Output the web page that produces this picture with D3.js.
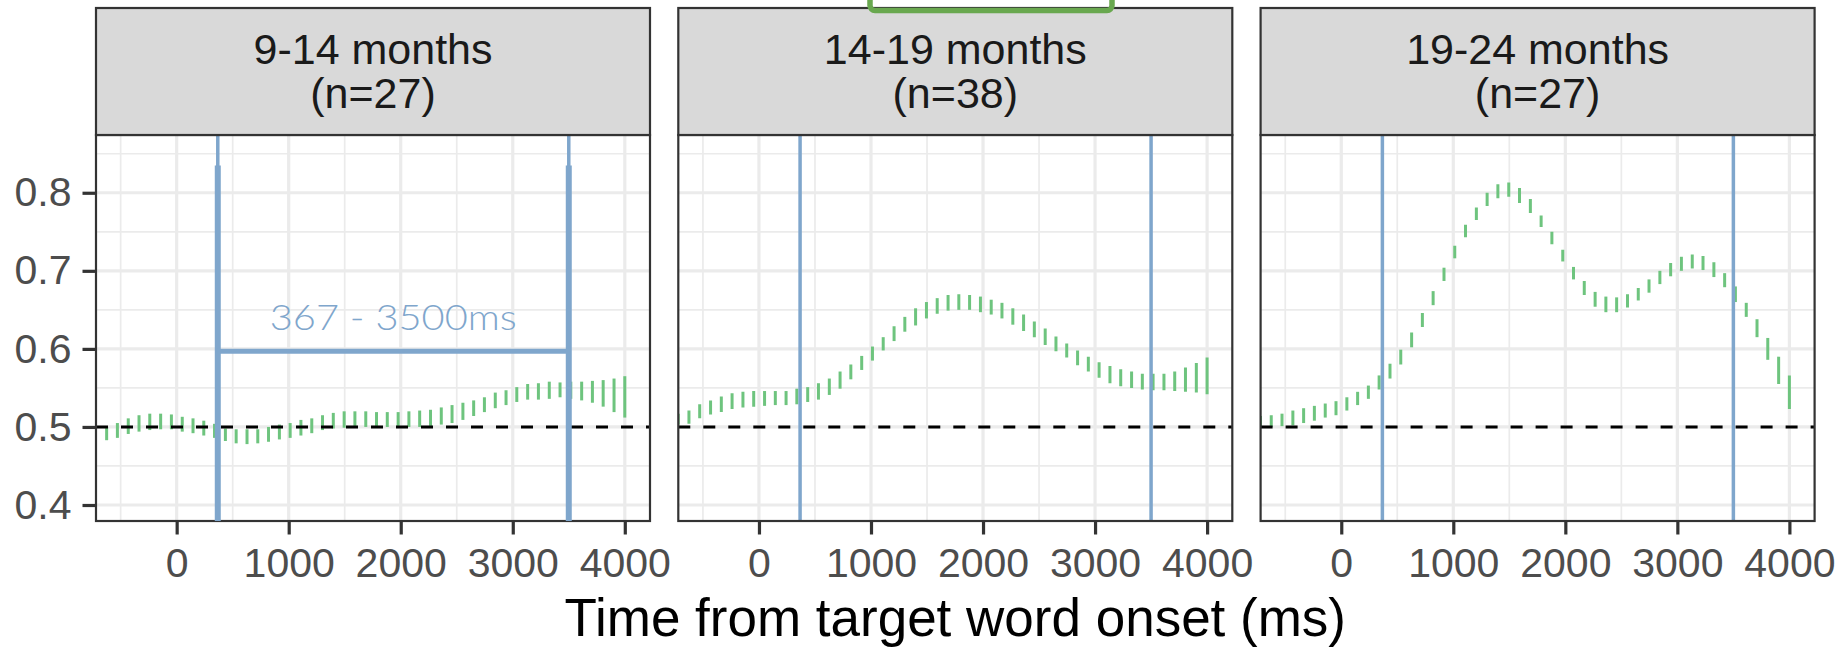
<!DOCTYPE html>
<html>
<head>
<meta charset="utf-8">
<script src="https://cdn.jsdelivr.net/npm/d3@7"></script>
<style>
  body { margin: 0; background: #fff; }
</style>
</head>
<body>
<script>
// facet labels
var panelNames = ['9-14 months', '14-19 months', '19-24 months'];
var panelN = ['(n=27)', '(n=38)', '(n=27)'];

// time bins (ms), bar centres
var times = [-721, -625, -529, -432, -336, -240, -143, -47, 50, 146,
  242, 338, 435, 531, 628, 724, 820, 917, 1013, 1109,
  1206, 1302, 1398, 1495, 1591, 1688, 1784, 1880, 1977, 2073,
  2169, 2266, 2362, 2458, 2555, 2651, 2747, 2844, 2940, 3036,
  3133, 3229, 3326, 3422, 3518, 3615, 3711, 3807, 3904, 4000];

// proportion target looking, lower / upper end of each bar
var lo914 = [null, .483, .486, .491, .494, .496, .497, .497, .494, .492,
  .489, .486, .482, .479, .478, .479, .481, .484, .486, .489,
  .492, .496, .498, .499, .499, .500, .500, .500, .499, .500,
  .500, .501, .503, .505, .509, .514, .519, .524, .528, .532,
  .535, .535, .536, .538, .536, .534, .531, .526, .519, .512];
var hi914 = [null, .500, .505, .511, .515, .517, .517, .516, .513, .511,
  .508, .504, .498, .497, .497, .497, .500, .503, .505, .509,
  .511, .515, .518, .520, .520, .520, .519, .519, .519, .520,
  .521, .522, .525, .528, .531, .534, .538, .544, .547, .551,
  .555, .556, .558, .557, .558, .558, .559, .560, .562, .565];

var lo1419 = [.503, .504, .511, .516, .519, .523, .525, .526, .527, .528,
  .528, .529, .532, .535, .541, .549, .561, .573, .585, .598,
  .610, .622, .630, .639, .645, .649, .650, .650, .647, .644,
  .639, .631, .623, .615, .605, .597, .589, .579, .571, .563,
  .556, .552, .550, .548, .547, .547, .546, .545, .544, .542];
var hi1419 = [.517, .521, .529, .534, .539, .543, .545, .546, .546, .546,
  .546, .549, .551, .556, .562, .571, .580, .591, .603, .615,
  .629, .641, .652, .660, .665, .669, .670, .669, .667, .663,
  .659, .652, .644, .635, .626, .616, .607, .598, .590, .583,
  .578, .574, .571, .568, .568, .568, .571, .576, .582, .589];

var lo1924 = [.500, .500, .501, .502, .505, .508, .512, .515, .521, .528,
  .536, .548, .562, .580, .602, .628, .656, .687, .716, .743,
  .765, .783, .793, .795, .787, .774, .756, .734, .712, .689,
  .669, .654, .647, .647, .653, .662, .672, .683, .693, .700,
  .703, .701, .692, .679, .660, .641, .615, .586, .555, .523];
var hi1924 = [.514, .515, .517, .521, .524, .527, .530, .533, .538, .545,
  .553, .566, .581, .599, .621, .646, .674, .704, .732, .759,
  .781, .800, .811, .813, .806, .792, .771, .750, .727, .705,
  .687, .673, .667, .666, .670, .678, .689, .700, .710, .718,
  .721, .719, .711, .697, .680, .659, .638, .614, .590, .566];

var xTicks = [0, 1000, 2000, 3000, 4000];
var xMinor = [-500, 500, 1500, 2500, 3500];
var yTicks = [0.4, 0.5, 0.6, 0.7, 0.8];
var yMinor = [0.45, 0.55, 0.65, 0.75, 0.85];

var windowMs = [367, 3500];   // analysis window (vertical lines)
var chance = 0.5;
var bracket = {top: 0.835, bar: 0.597, label: '367 - 3500ms'};

var series = [
  {lo: lo914, hi: hi914},
  {lo: lo1419, hi: hi1419},
  {lo: lo1924, hi: hi1924}
];

// layout
var width = 1841, height = 649;
var panelLeft = 96, panelTop = 135, panelW = 554, panelH = 386, panelGap = 28.3;
var stripH = 127;
var font = 'Liberation Sans, Arial, Helvetica, sans-serif';
var blue = '#7fa6cc', green = '#6ec47e';

var svg = d3.select('body').append('svg')
  .attr('width', width)
  .attr('height', height)
  .style('background', '#fff');

var xScale = d3.scaleLinear().domain([-720, 4225]).range([0, panelW]);
var yScale = d3.scaleLinear().domain([0.3795, 0.874]).range([panelH, 0]);

var defs = svg.append('defs');

panelNames.forEach(function(name, p) {
  var px = panelLeft + p * (panelW + panelGap);
  var g = svg.append('g').attr('transform', 'translate(' + px + ',' + panelTop + ')');

  defs.append('clipPath').attr('id', 'clip' + p)
    .append('rect').attr('width', panelW).attr('height', panelH);

  var plot = g.append('g').attr('clip-path', 'url(#clip' + p + ')');

  plot.append('rect').attr('width', panelW).attr('height', panelH).attr('fill', '#fff');

  // minor grid
  plot.selectAll('.vminor').data(xMinor).enter().append('line')
    .attr('x1', function(d){ return xScale(d); }).attr('x2', function(d){ return xScale(d); })
    .attr('y1', 0).attr('y2', panelH)
    .attr('stroke', '#ebebeb').attr('stroke-width', 1.7);
  plot.selectAll('.hminor').data(yMinor).enter().append('line')
    .attr('x1', 0).attr('x2', panelW)
    .attr('y1', function(d){ return yScale(d); }).attr('y2', function(d){ return yScale(d); })
    .attr('stroke', '#ebebeb').attr('stroke-width', 1.7);

  // major grid
  plot.selectAll('.vmajor').data(xTicks).enter().append('line')
    .attr('x1', function(d){ return xScale(d); }).attr('x2', function(d){ return xScale(d); })
    .attr('y1', 0).attr('y2', panelH)
    .attr('stroke', '#ebebeb').attr('stroke-width', 3.2);
  plot.selectAll('.hmajor').data(yTicks).enter().append('line')
    .attr('x1', 0).attr('x2', panelW)
    .attr('y1', function(d){ return yScale(d); }).attr('y2', function(d){ return yScale(d); })
    .attr('stroke', '#ebebeb').attr('stroke-width', 3.2);

  // error bars
  var s = series[p];
  var bars = times.map(function(t, i){ return {t: t, lo: s.lo[i], hi: s.hi[i]}; })
    .filter(function(d){ return d.lo !== null; });
  plot.selectAll('.bar').data(bars).enter().append('line')
    .attr('x1', function(d){ return xScale(d.t); })
    .attr('x2', function(d){ return xScale(d.t); })
    .attr('y1', function(d){ return yScale(d.lo); })
    .attr('y2', function(d){ return yScale(d.hi); })
    .attr('stroke', green).attr('stroke-width', 3);

  // chance line
  plot.append('line')
    .attr('x1', 0).attr('x2', panelW)
    .attr('y1', yScale(chance)).attr('y2', yScale(chance))
    .attr('stroke', '#000').attr('stroke-width', 3)
    .attr('stroke-dasharray', '12,13');

  // window lines
  plot.selectAll('.win').data(windowMs).enter().append('line')
    .attr('x1', function(d){ return xScale(d); }).attr('x2', function(d){ return xScale(d); })
    .attr('y1', 0).attr('y2', panelH)
    .attr('stroke', blue).attr('stroke-width', 3.5);

  // panel border
  g.append('rect').attr('width', panelW).attr('height', panelH)
    .attr('fill', 'none').attr('stroke', '#333').attr('stroke-width', 2.2);

  // strip
  g.append('rect').attr('x', 0).attr('y', -stripH).attr('width', panelW).attr('height', stripH)
    .attr('fill', '#d9d9d9').attr('stroke', '#333').attr('stroke-width', 2.2);
  g.append('text').text(name)
    .attr('x', panelW / 2).attr('y', -71)
    .style('text-anchor', 'middle')
    .attr('font-family', font).attr('font-size', 43).attr('fill', '#1a1a1a');
  g.append('text').text(panelN[p])
    .attr('x', panelW / 2).attr('y', -27)
    .style('text-anchor', 'middle')
    .attr('font-family', font).attr('font-size', 43).attr('fill', '#1a1a1a');

  // x axis
  var xAxis = g.append('g').attr('transform', 'translate(0,' + panelH + ')')
    .call(d3.axisBottom(xScale).tickValues(xTicks).tickFormat(d3.format('d'))
      .tickSize(13.5).tickPadding(13).tickSizeOuter(0));
  xAxis.select('.domain').remove();
  xAxis.selectAll('line').attr('stroke', '#333').attr('stroke-width', 3.2);
  xAxis.selectAll('text').attr('font-family', font).attr('font-size', 41).attr('fill', '#4d4d4d');

  if (p === 0) {
    var yAxis = g.append('g')
      .call(d3.axisLeft(yScale).tickValues(yTicks).tickFormat(d3.format('.1f'))
        .tickSize(13.5).tickPadding(11).tickSizeOuter(0));
    yAxis.select('.domain').remove();
    yAxis.selectAll('line').attr('stroke', '#333').attr('stroke-width', 3.2);
    yAxis.selectAll('text').attr('font-family', font).attr('font-size', 41).attr('fill', '#4d4d4d');

    // bracket annotation over the analysis window
    var ann = g.append('g');
    ann.selectAll('.arm').data(windowMs).enter().append('line')
      .attr('x1', function(d){ return xScale(d); }).attr('x2', function(d){ return xScale(d); })
      .attr('y1', yScale(bracket.top)).attr('y2', panelH)
      .attr('stroke', blue).attr('stroke-width', 6);
    ann.append('line')
      .attr('x1', xScale(windowMs[0])).attr('x2', xScale(windowMs[1]))
      .attr('y1', yScale(bracket.bar)).attr('y2', yScale(bracket.bar))
      .attr('stroke', blue).attr('stroke-width', 5);
    ann.append('text').text(bracket.label)
      .attr('x', (xScale(windowMs[0]) + xScale(windowMs[1])) / 2)
      .attr('y', yScale(bracket.bar) - 21)
      .style('text-anchor', 'middle')
      .attr('font-family', 'Lato, Open Sans, sans-serif')
      .attr('font-weight', 300)
      .attr('font-size', 35)
      .attr('textLength', 247).attr('lengthAdjust', 'spacingAndGlyphs')
      .attr('fill', blue);
  }
});

// x axis title
svg.append('text').text('Time from target word onset (ms)')
  .attr('x', panelLeft + (3 * panelW + 2 * panelGap) / 2)
  .attr('y', 636)
  .style('text-anchor', 'middle')
  .attr('font-family', font).attr('font-size', 53).attr('fill', '#000');

// green highlight box cut off at the top edge
svg.append('rect')
  .attr('x', 870).attr('y', -30).attr('width', 242).attr('height', 40.5)
  .attr('rx', 5).attr('ry', 5)
  .attr('fill', 'none').attr('stroke', '#69a84f').attr('stroke-width', 5.5);
</script>
</body>
</html>
